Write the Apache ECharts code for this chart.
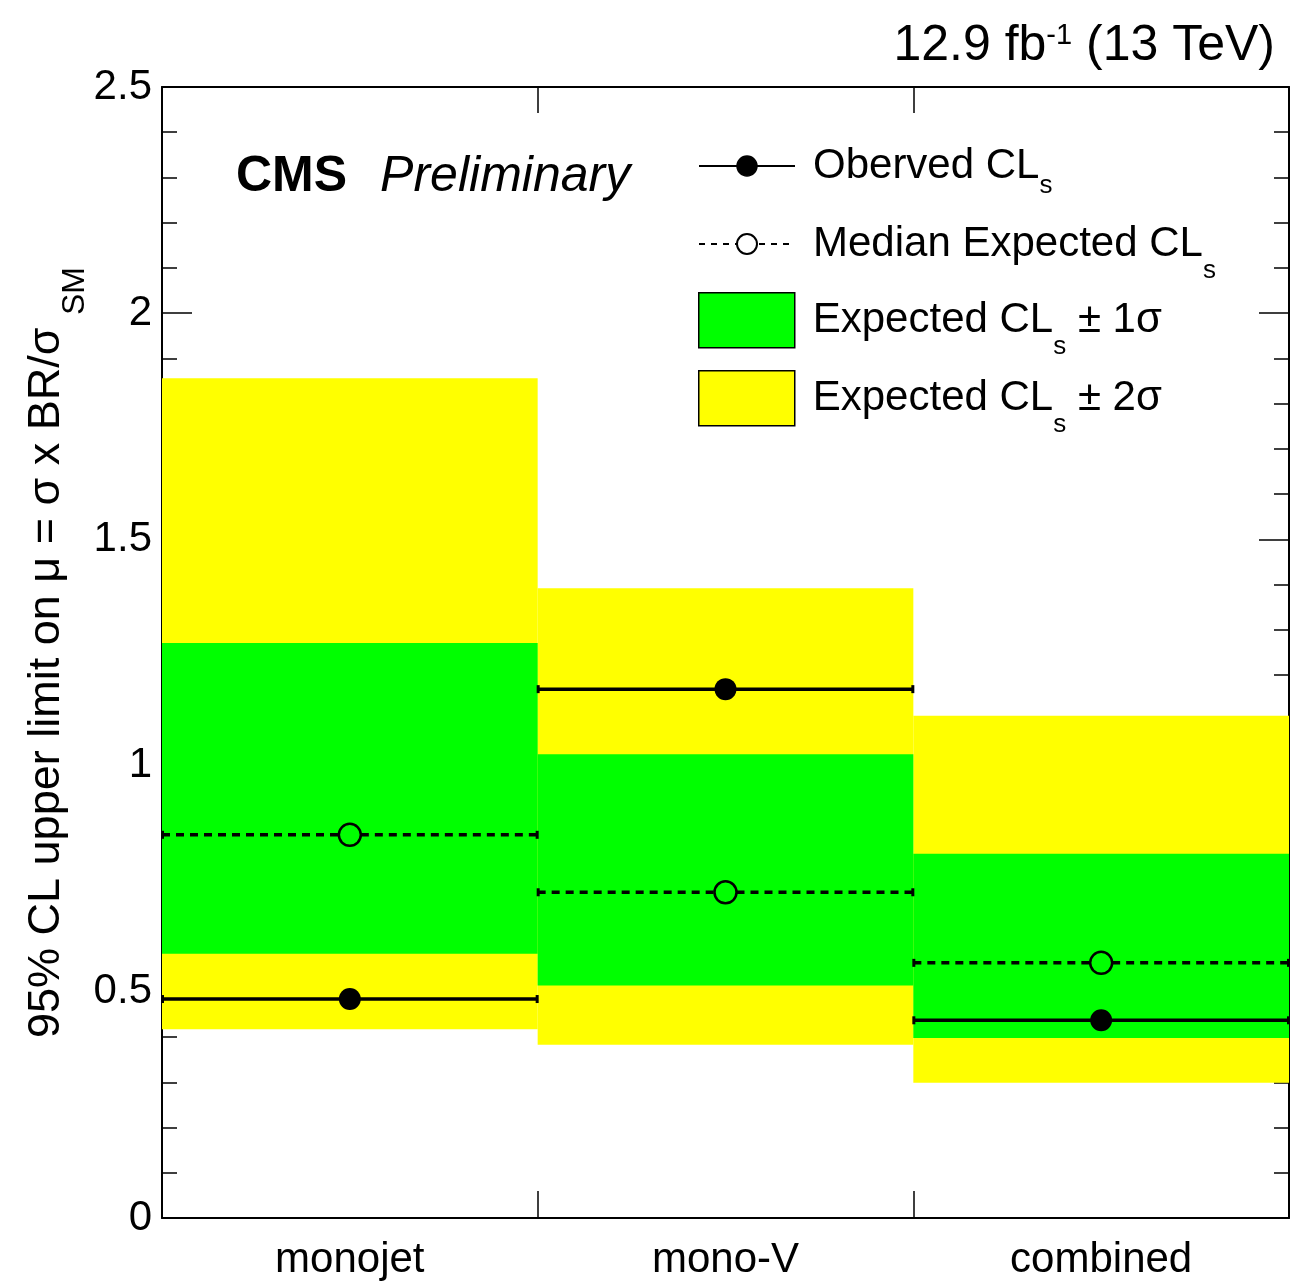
<!DOCTYPE html>
<html><head><meta charset="utf-8">
<script src="https://cdn.jsdelivr.net/npm/echarts@6/dist/echarts.min.js"></script>
<style>html,body{margin:0;padding:0;background:#fff}#c{width:1300px;height:1281px}</style>
</head><body><div id="c"></div><script>
// ---- data ----
const categories = ['monojet', 'mono-V', 'combined'];
const observed   = [0.484, 1.169, 0.437];
const expected   = [0.847, 0.720, 0.564];
const band1Low   = [0.584, 0.514, 0.398];
const band1High  = [1.271, 1.025, 0.805];
const band2Low   = [0.417, 0.383, 0.299];
const band2High  = [1.856, 1.392, 1.110];

const FONT = "'Liberation Sans', Arial, Helvetica, sans-serif";
const YELLOW = '#ffff00', GREEN = '#00ff00';

function bandData(lo, hi) { return categories.map((c, i) => [i, lo[i], hi[i]]); }
function pointData(v) { return categories.map((c, i) => [i, v[i]]); }

function bandItem(params, api) {
  const i = api.value(0);
  const lo = api.coord([i, api.value(1)]);
  const hi = api.coord([i, api.value(2)]);
  const w = api.size([1, 0])[0];
  return { type: 'rect', shape: { x: lo[0] - w / 2, y: hi[1], width: w, height: lo[1] - hi[1] },
           style: { fill: api.visual('color') } };
}
function limitItem(dashed) {
  return function (params, api) {
    const i = api.value(0);
    const p = api.coord([i, api.value(1)]);
    const w = api.size([1, 0])[0];
    const x0 = p[0] - w / 2, x1 = p[0] + w / 2, y = p[1], r = 11;
    const ls = { stroke: '#000', lineWidth: 3.5, lineDash: dashed ? [8, 6] : null };
    const ch = [];
    if (dashed) {
      ch.push({ type: 'line', shape: { x1: x0, y1: y, x2: p[0] - r, y2: y }, style: ls });
      ch.push({ type: 'line', shape: { x1: p[0] + r, y1: y, x2: x1, y2: y }, style: ls });
    } else {
      ch.push({ type: 'line', shape: { x1: x0, y1: y, x2: x1, y2: y }, style: ls });
    }
    ch.push({ type: 'rect', shape: { x: x0 - 1, y: y - 4, width: 3, height: 8 }, style: { fill: '#000' } });
    ch.push({ type: 'rect', shape: { x: x1 - 2, y: y - 4, width: 3, height: 8 }, style: { fill: '#000' } });
    ch.push({ type: 'circle', shape: { cx: p[0], cy: y, r: r },
              style: dashed ? { fill: 'none', stroke: '#000', lineWidth: 2.5 } : { fill: '#000' } });
    return { type: 'group', children: ch };
  };
}

const legendText = {
  obs: 'Oberved CL{s1|s}',
  exp: 'Median Expected CL{s|s}',
  one: 'Expected CL{s|s} ± 1σ',
  two: 'Expected CL{s|s} ± 2σ'
};
const legendRich = {
  s1: { fontSize: 26, fontFamily: FONT, color: '#000', padding: [40, 0, 0, 0] },
  s: { fontSize: 26, fontFamily: FONT, color: '#000', padding: [54, 0, 0, 0] }
};
function mkLegend(name, top, w, h, icon) {
  const l = {
    data: [name], left: 693, top: top, orient: 'vertical', itemWidth: w, itemHeight: h,
    selectedMode: false, formatter: n => legendText[n],
    itemStyle: { borderColor: '#000', borderWidth: 1.5 },
    textStyle: { fontSize: 42, fontFamily: FONT, color: '#000', padding: [0, 0, 0, 13], rich: legendRich }
  };
  if (icon) l.icon = icon;
  return l;
}

const axisLineStyle = { color: '#000', width: 2 };
const tickStyle = { color: '#000', width: 1.5 };

const option = {
  animation: false,
  backgroundColor: '#fff',
  grid: { left: 162, right: 11, top: 87, bottom: 62, show: false },
  title: [
    { text: '12.9 fb{sup|-1} (13 TeV)', right: 20, top: 16,
      textStyle: { fontSize: 50, fontWeight: 'normal', color: '#000', fontFamily: FONT,
        rich: { sup: { fontSize: 29, fontWeight: 'normal', verticalAlign: 'top', color: '#000', fontFamily: FONT } } } },
    { text: '{b|CMS}{i|Preliminary}', left: 231, top: 147,
      textStyle: { color: '#000', fontWeight: 'normal', rich: {
        b: { fontSize: 50, fontWeight: 'bold', color: '#000', fontFamily: FONT },
        i: { fontSize: 50, fontWeight: 'normal', fontStyle: 'italic', color: '#000', fontFamily: FONT, padding: [0, 0, 0, 33] } } } }
  ],
  legend: [
    mkLegend('obs', 140, 96, 25),
    mkLegend('exp', 218, 96, 25),
    mkLegend('one', 287, 96, 55, 'rect'),
    mkLegend('two', 365, 96, 55, 'rect')
  ],
  xAxis: [
    { type: 'category', data: categories, position: 'bottom', boundaryGap: true,
      axisLine: { show: true, onZero: false, lineStyle: axisLineStyle },
      axisTick: { show: true, inside: true, length: 27, interval: 0, lineStyle: tickStyle },
      axisLabel: { fontSize: 42, color: '#000', fontFamily: FONT, margin: 21, interval: 0 },
      splitLine: { show: false } },
    { type: 'category', data: categories, position: 'top', boundaryGap: true,
      axisLine: { show: true, onZero: false, lineStyle: axisLineStyle },
      axisTick: { show: true, inside: true, length: 26, interval: 0, lineStyle: tickStyle },
      axisLabel: { show: false }, splitLine: { show: false } }
  ],
  yAxis: [
    { type: 'value', min: 0, max: 2.5, interval: 0.5, position: 'left',
      axisLine: { show: true, onZero: false, lineStyle: axisLineStyle },
      axisTick: { show: true, inside: true, length: 30, lineStyle: tickStyle },
      minorTick: { show: true, splitNumber: 5, length: 15, lineStyle: tickStyle },
      splitLine: { show: false },
      axisLabel: { fontSize: 42, color: '#000', fontFamily: FONT, margin: 10 },
      name: '95% CL upper limit on μ = σ x BR/σ {sm|SM}',
      nameLocation: 'middle', nameRotate: 90, nameGap: 71, nameMoveOverlap: false,
      nameTextStyle: { fontSize: 45, color: '#000', fontFamily: FONT,
        rich: { sm: { fontSize: 32, color: '#000', fontFamily: FONT, padding: [56, 0, 0, 0] } } } },
    { type: 'value', min: 0, max: 2.5, interval: 0.5, position: 'right',
      axisLine: { show: true, onZero: false, lineStyle: axisLineStyle },
      axisTick: { show: true, inside: true, length: 30, lineStyle: tickStyle },
      minorTick: { show: true, splitNumber: 5, length: 15, lineStyle: tickStyle },
      splitLine: { show: false }, axisLabel: { show: false } }
  ],
  series: [
    { name: 'obs', type: 'line', data: [], symbol: 'circle', symbolSize: 20,
      itemStyle: { color: '#000' }, lineStyle: { color: '#000', width: 3.5 } },
    { name: 'exp', type: 'line', data: [], symbol: 'emptyCircle', symbolSize: 20,
      itemStyle: { color: '#000', borderWidth: 2 }, lineStyle: { color: '#000', width: 3, type: [6, 6] } },
    { name: 'two', type: 'custom', renderItem: bandItem, data: bandData(band2Low, band2High),
      encode: { x: 0, y: [1, 2] }, itemStyle: { color: YELLOW }, z: 1 },
    { name: 'one', type: 'custom', renderItem: bandItem, data: bandData(band1Low, band1High),
      encode: { x: 0, y: [1, 2] }, itemStyle: { color: GREEN }, z: 2 },
    { name: 'exp', type: 'custom', renderItem: limitItem(true), data: pointData(expected),
      encode: { x: 0, y: 1 }, itemStyle: { color: '#000' }, z: 3 },
    { name: 'obs', type: 'custom', renderItem: limitItem(false), data: pointData(observed),
      encode: { x: 0, y: 1 }, itemStyle: { color: '#000' }, z: 4 }
  ]
};
const chart = echarts.init(document.getElementById('c'), null, { renderer: 'canvas' });
chart.setOption(option);
</script></body></html>
